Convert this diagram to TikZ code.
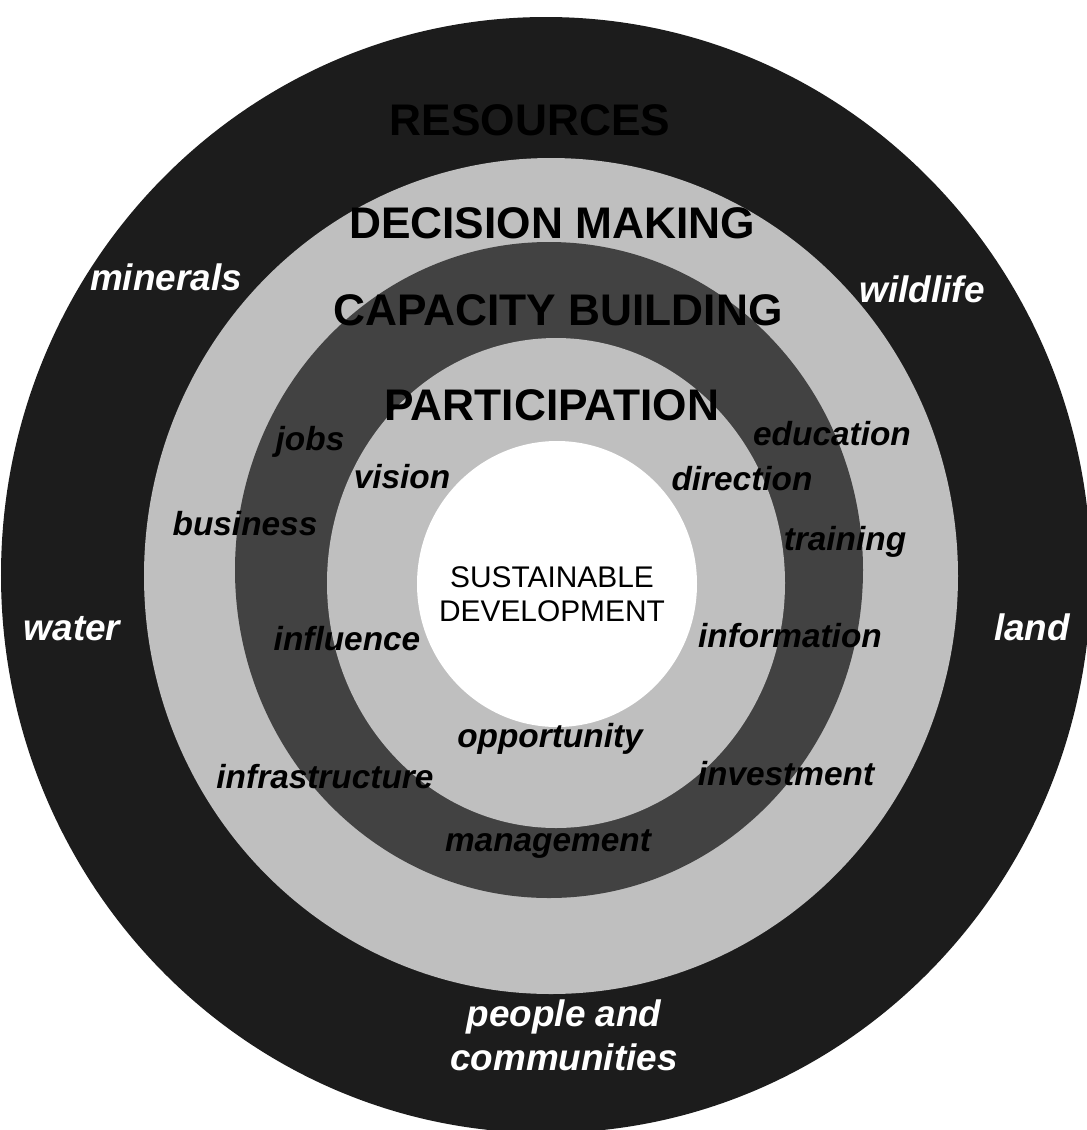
\documentclass[tikz,border=0pt]{standalone}
\usepackage{fontspec}
\setmainfont{Liberation Sans}
\usetikzlibrary{positioning}

\definecolor{outerband}{gray}{0.11}
\definecolor{middleband}{gray}{0.26}
\definecolor{lightband}{gray}{0.75}

\begin{document}
\begin{tikzpicture}[x=0.1mm, y=-0.1mm,
	title/.style={font=\fontsize{12.6}{15}\selectfont\bfseries, inner sep=0pt, anchor=base},
	word/.style={font=\fontsize{9.5}{11}\selectfont\bfseries\itshape, inner sep=0pt, anchor=base},
	outword/.style={font=\fontsize{10.5}{12}\selectfont\bfseries\itshape, text=white, inner sep=0pt, anchor=base},
	core/.style={font=\fontsize{8.5}{10}\selectfont, inner sep=0pt, anchor=base}]
	     \useasboundingbox (0,0) rectangle (1087,1130);
	     % rings %
		 \fill[white] (0,0) rectangle (1087,1130);
		 \fill[outerband] (546,575) ellipse [x radius=545, y radius=558];
		 \fill[lightband] (551,576) ellipse [x radius=407, y radius=418];
		 \fill[middleband] (549,570) ellipse [x radius=314, y radius=328];
		 \fill[lightband] (556,583) ellipse [x radius=229, y radius=245];
		 \fill[white] (557,584) ellipse [x radius=140, y radius=143];

	     % nodes %
		 \node[title] (resources) at (530,135) {RESOURCES};
		 \node[title] (decision) at (552,238) {DECISION MAKING};
		 \node[title] (capacity) at (558,325) {CAPACITY BUILDING};
		 \node[title] (participation) at (552,420) {PARTICIPATION};

		 \node[core] (sustainable) at (552,587) {SUSTAINABLE};
		 \node[core, below=1.15mm of sustainable] (development) {DEVELOPMENT};

		 \node[outword] (minerals) at (166,290) {minerals};
		 \node[outword] (wildlife) at (922,302) {wildlife};
		 \node[outword] (water) at (72,640) {water};
		 \node[outword] (land) at (1032,640) {land};
		 \node[outword] (people) at (564,1026) {people and};
		 \node[outword, below=0.9mm of people] (communities) {communities};

		 \node[word] (jobs) at (310,450) {jobs};
		 \node[word] (vision) at (402,488) {vision};
		 \node[word] (business) at (245,535) {business};
		 \node[word] (education) at (832,445) {education};
		 \node[word] (direction) at (742,490) {direction};
		 \node[word] (training) at (845,550) {training};
		 \node[word] (influence) at (347,650) {influence};
		 \node[word] (information) at (790,647) {information};
		 \node[word] (opportunity) at (550,747) {opportunity};
		 \node[word] (infrastructure) at (325,788) {infrastructure};
		 \node[word] (investment) at (786,785) {investment};
		 \node[word] (management) at (548,851) {management};
	     \end{tikzpicture}
\end{document}
